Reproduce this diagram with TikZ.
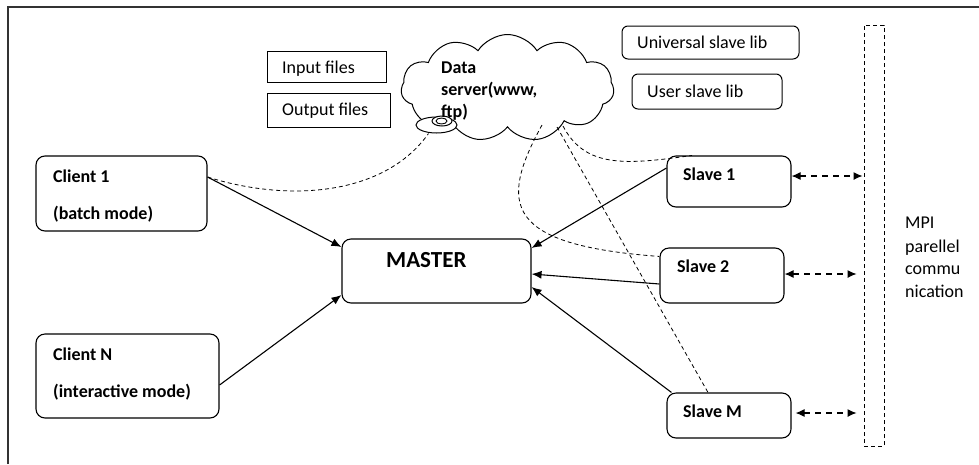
\documentclass[tikz,border=0pt]{standalone}
\usepackage{fontspec}
\setmainfont{Carlito}
\usetikzlibrary{shapes.symbols,shapes.geometric,arrows.meta}
\begin{document}
\begin{tikzpicture}[x=1pt,y=-1pt,
  box/.style={draw, line width=1.1pt, rounded corners=9pt, inner sep=0pt},
  sbox/.style={draw, line width=1pt, inner sep=0pt},
  lib/.style={draw, line width=1pt, rounded corners=6pt, inner sep=0pt},
  lbl/.style={font=\fontsize{18}{22}\selectfont\bfseries, anchor=base west, inner sep=0pt},
  nlbl/.style={font=\fontsize{18}{22}\selectfont, anchor=base west, inner sep=0pt},
  arr/.style={-{Latex[length=10pt,width=8pt]}, line width=1.1pt},
  dsh/.style={dash pattern=on 4pt off 3pt, line width=0.8pt},
  darr/.style={{Latex[length=9pt,width=8pt]}-{Latex[length=9pt,width=8pt]}, dash pattern=on 6pt off 5pt, line width=1.1pt},
  bubble/.style={ellipse, draw, line width=1pt, fill=white, inner sep=0pt}]

\useasboundingbox (0,0) rectangle (979,464);

% frame
\draw[line width=1.2pt, black!80] (8,464) -- (8,7) -- (979,7);

% boxes
\node[box, minimum width=171pt, minimum height=75pt] (c1) at (121.5,193.5) {};
\node[box, minimum width=183pt, minimum height=84pt] (cN) at (127.5,376) {};
\node[box, minimum width=189pt, minimum height=64pt] (m) at (436.5,271) {};
\node[box, minimum width=124pt, minimum height=51pt] (s1) at (729,181.5) {};
\node[box, minimum width=124pt, minimum height=55pt] (s2) at (722,275.5) {};
\node[box, minimum width=124pt, minimum height=45pt] (sM) at (729,415.5) {};
\node[sbox, minimum width=119pt, minimum height=31pt] (in) at (326.5,66.5) {};
\node[sbox, minimum width=123pt, minimum height=34pt] (out) at (328.5,110) {};
\node[lib, minimum width=177pt, minimum height=33pt] (ul) at (710.5,42.5) {};
\node[lib, minimum width=150pt, minimum height=35pt] (usl) at (707,91.5) {};
\node[draw, dash pattern=on 4pt off 3pt, line width=0.9pt, minimum width=20pt, minimum height=421pt, inner sep=0pt] (mpi) at (874,235.5) {};

% cloud
\node[cloud, draw, line width=1pt, fill=white, cloud puffs=11, cloud puff arc=115,
      minimum width=213pt, minimum height=107pt, inner sep=0pt] (ds) at (507.5,88) {};
\node[bubble, minimum width=41pt, minimum height=16pt] (bub) at (436.5,125) {};
\node[bubble, minimum width=20pt, minimum height=10pt] (bub2) at (442,121) {};
\node[bubble, line width=0.9pt, minimum width=11pt, minimum height=6pt] (bub3) at (441.5,121) {};

% texts
\node[lbl] (t1a) at (53,182) {Client 1};
\node[lbl] (t1b) at (53,219) {(batch mode)};
\node[lbl] (tNa) at (53,360) {Client N};
\node[lbl] (tNb) at (53,397) {(interactive mode)};
\node[lbl, font=\fontsize{23}{26}\selectfont\bfseries] (tm) at (386,267) {MASTER};
\node[lbl] (ts1) at (683,180) {Slave 1};
\node[lbl] (ts2) at (677,272) {Slave 2};
\node[lbl] (tsM) at (683,417) {Slave M};
\node[lbl] (td1) at (441,73) {Data};
\node[lbl] (td2) at (441,95) {server(www,};
\node[lbl] (td3) at (441,117) {ftp)};
\node[nlbl] (tin) at (282,73) {Input files};
\node[nlbl] (tout) at (282,115) {Output files};
\node[nlbl] (tul) at (637,48) {Universal slave lib};
\node[nlbl] (tusl) at (647,97) {User slave lib};
\node[nlbl] (mp1) at (905,228) {MPI};
\node[nlbl] (mp2) at (905,252) {parellel};
\node[nlbl] (mp3) at (905,274) {commu};
\node[nlbl] (mp4) at (905,297) {nication};

% cloud connection points
\coordinate (cb1) at (542,125);
\coordinate (cb2) at (557,127);
\coordinate (cb3) at (563,126);

% dashed links
\draw[dsh] ([yshift=16.5pt]c1.east) .. controls (290,203) and (385,195) .. ([xshift=-8pt]bub.south);
\draw[dsh] (cb1) .. controls (498,205) and (505,245) .. ([yshift=-9pt]s2.north west);
\draw[dsh] (cb2) -- ([xshift=-21pt]sM.north);
\draw[dsh] (cb3) .. controls (585,168) and (625,165) .. ([xshift=-37pt]s1.north);

% solid arrows
\draw[arr] ([yshift=16.5pt]c1.east) -- ([yshift=24pt]m.west);
\draw[arr] ([yshift=-9pt]cN.east) -- ([yshift=-24pt]m.west);
\draw[arr] ([yshift=13.5pt]s1.west) -- ([yshift=23pt]m.east);
\draw[arr] ([yshift=-8.5pt]s2.west) -- ([yshift=-3pt]m.east);
\draw[arr] ([xshift=5pt]sM.north west) -- ([yshift=-16pt]m.east);

% MPI double arrows
\draw[darr] ([yshift=5.5pt]s1.east) -- ([yshift=5.5pt,xshift=-1pt]s1.east -| mpi.west);
\draw[darr] ([yshift=1.5pt]s2.east) -- ([yshift=1.5pt,xshift=-7pt]s2.east -| mpi.west);
\draw[darr] ([yshift=2.5pt,xshift=4pt]sM.east) -- ([yshift=2.5pt,xshift=-7pt]sM.east -| mpi.west);
\end{tikzpicture}
\end{document}
